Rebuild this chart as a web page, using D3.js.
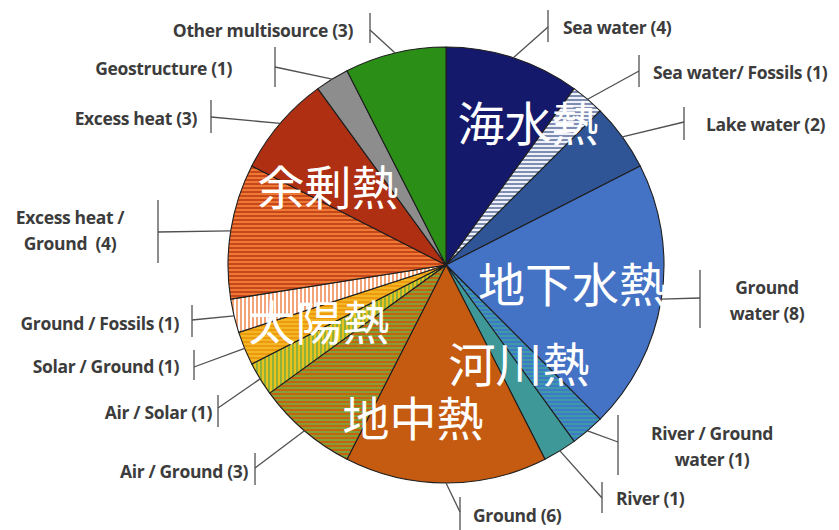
<!DOCTYPE html>
<html>
<head>
<meta charset="utf-8">
<script src="https://cdn.jsdelivr.net/npm/d3@7"></script>
<style>
  html, body { margin: 0; padding: 0; background: #fff; }
  svg { display: block; }
  .lbl text { white-space: pre; }
</style>
</head>
<body>
<svg id="chart" width="839" height="530"></svg>
<script>
// Heat sources of district heating networks (number of systems)
const categories = [
  "Sea water", "Sea water/ Fossils", "Lake water", "Ground water",
  "River / Ground water", "River", "Ground", "Air / Ground", "Air / Solar",
  "Solar / Ground", "Ground / Fossils", "Excess heat / Ground", "Excess heat",
  "Geostructure", "Other multisource"
];
const counts = [4, 1, 2, 8, 1, 1, 6, 3, 1, 1, 1, 4, 3, 1, 3];
const labelLines = [
  ["Sea water (4)"], ["Sea water/ Fossils (1)"], ["Lake water (2)"],
  ["Ground", "water (8)"], ["River / Ground", "water (1)"], ["River (1)"],
  ["Ground (6)"], ["Air / Ground (3)"], ["Air / Solar (1)"],
  ["Solar / Ground (1)"], ["Ground / Fossils (1)"], ["Excess heat /", "Ground  (4)"],
  ["Excess heat (3)"], ["Geostructure (1)"], ["Other multisource (3)"]
];
const groupNames = ["海水熱", "余剰熱", "地下水熱", "太陽熱", "河川熱", "地中熱"];

// Fill for each slice: plain colour or a two-colour stripe
const fills = [
  { c: "#15196b" },
  { stripe: "h", a: "#eef1f7", b: "#7f8db3", p: 4 },
  { c: "#2f5597" },
  { c: "#4472c4" },
  { stripe: "h", a: "#3f78c8", b: "#3e9aa3", p: 4 },
  { c: "#3f9898" },
  { c: "#c55a11" },
  { stripe: "h", a: "#c8600f", b: "#7ea23a", p: 4 },
  { stripe: "v", a: "#e9c21e", b: "#8fb13a", p: 4 },
  { stripe: "h", a: "#ee9a0e", b: "#f3b625", p: 4 },
  { stripe: "v", a: "#ffffff", b: "#f2a478", p: 4 },
  { stripe: "h", a: "#ec7a35", b: "#c8471a", p: 4 },
  { c: "#ae2f12" },
  { c: "#8d8d8d" },
  { c: "#2b8f17" }
];

// Leader layout: bar x, bar top/bottom, joint y, text anchor, text x, first line y
const leaderLayout = [
  { bx: 548, y0: 10,  y1: 42,  jy: 27,  anchor: "start",  tx: 563, ty: 27 },
  { bx: 639, y0: 55,  y1: 87,  jy: 71,  anchor: "start",  tx: 653, ty: 72 },
  { bx: 684, y0: 107, y1: 140, jy: 122, anchor: "start",  tx: 706, ty: 124 },
  { bx: 700, y0: 270, y1: 328, jy: 298, anchor: "middle", tx: 767, ty: 287 },
  { bx: 618, y0: 415, y1: 475, jy: 442, anchor: "middle", tx: 712, ty: 433 },
  { bx: 602, y0: 482, y1: 513, jy: 498, anchor: "start",  tx: 616, ty: 498 },
  { bx: 460, y0: 497, y1: 532, jy: 512, anchor: "start",  tx: 473, ty: 515 },
  { bx: 255, y0: 453, y1: 485, jy: 468, anchor: "end",    tx: 248, ty: 471 },
  { bx: 218, y0: 395, y1: 427, jy: 408, anchor: "end",    tx: 212, ty: 412 },
  { bx: 194, y0: 350, y1: 380, jy: 367, anchor: "end",    tx: 179, ty: 366 },
  { bx: 192, y0: 305, y1: 337, jy: 320, anchor: "end",    tx: 179, ty: 323 },
  { bx: 158, y0: 200, y1: 263, jy: 232, anchor: "middle", tx: 70,  ty: 217 },
  { bx: 211, y0: 100, y1: 133, jy: 117, anchor: "end",    tx: 197, ty: 118 },
  { bx: 275, y0: 47,  y1: 87,  jy: 67,  anchor: "end",    tx: 232, ty: 68 },
  { bx: 370, y0: 13,  y1: 43,  jy: 30,  anchor: "end",    tx: 353, ty: 30 }
];
const groupLayout = [
  { x: 528, y: 120 }, { x: 328, y: 184 }, { x: 572, y: 281 },
  { x: 319, y: 319 }, { x: 519, y: 361 }, { x: 413, y: 415 }
];

const cx = 446, cy = 265, R = 218;
const svg = d3.select("#chart");
const defs = svg.append("defs");

fills.forEach((f, i) => {
  if (!f.stripe) return;
  const pat = defs.append("pattern")
    .attr("id", "pat" + i)
    .attr("patternUnits", "userSpaceOnUse")
    .attr("width", f.p).attr("height", f.p);
  pat.append("rect").attr("width", f.p).attr("height", f.p).attr("fill", f.a);
  if (f.stripe === "h") {
    pat.append("rect").attr("y", f.p / 2).attr("width", f.p).attr("height", f.p / 2).attr("fill", f.b);
  } else {
    pat.append("rect").attr("x", f.p / 2).attr("width", f.p / 2).attr("height", f.p).attr("fill", f.b);
  }
});
const fillOf = i => fills[i].stripe ? `url(#pat${i})` : fills[i].c;

const pie = d3.pie().sort(null).value(d => d).startAngle(0).endAngle(2 * Math.PI);
const arcs = pie(counts);
const arc = d3.arc().innerRadius(0).outerRadius(R);

const g = svg.append("g").attr("transform", `translate(${cx},${cy})`);
g.selectAll("path.slice")
  .data(arcs)
  .join("path")
  .attr("class", "slice")
  .attr("d", arc)
  .attr("fill", (d, i) => fillOf(i))
  .attr("stroke", "#1e1e1e")
  .attr("stroke-width", 1.1)
  .attr("stroke-linejoin", "round");

// Leader lines with vertical bars
const leaders = svg.append("g")
  .attr("stroke", "#505050").attr("stroke-width", 1.3).attr("fill", "none");
arcs.forEach((d, i) => {
  const L = leaderLayout[i];
  const mid = (d.startAngle + d.endAngle) / 2;
  const sx = cx + R * Math.sin(mid), sy = cy - R * Math.cos(mid);
  leaders.append("path").attr("d", `M${sx},${sy}L${L.bx},${L.jy}`);
  leaders.append("path").attr("d", `M${L.bx},${L.y0}L${L.bx},${L.y1}`);
});

// Category labels
const labels = svg.append("g")
  .attr("class", "lbl")
  .attr("font-family", "'Open Sans', Lato, sans-serif")
  .attr("font-weight", "bold")
  .attr("font-size", 17.5)
  .attr("letter-spacing", -0.35)
  .attr("fill", "#3c3c3c");
labelLines.forEach((lines, i) => {
  const L = leaderLayout[i];
  const t = labels.append("text")
    .attr("text-anchor", L.anchor)
    .attr("dominant-baseline", "central");
  lines.forEach((s, k) => {
    t.append("tspan").attr("x", L.tx).attr("y", L.ty + k * 26).text(s);
  });
});

// Heat source group names
svg.append("g")
  .attr("font-family", "'Noto Sans CJK JP', 'Noto Sans CJK SC', sans-serif")
  .attr("font-size", 47)
  .attr("fill", "#ffffff")
  .attr("text-anchor", "middle")
  .attr("dominant-baseline", "central")
  .selectAll("text")
  .data(groupNames)
  .join("text")
  .attr("x", (d, i) => groupLayout[i].x)
  .attr("y", (d, i) => groupLayout[i].y)
  .text(d => d);
</script>
</body>
</html>
